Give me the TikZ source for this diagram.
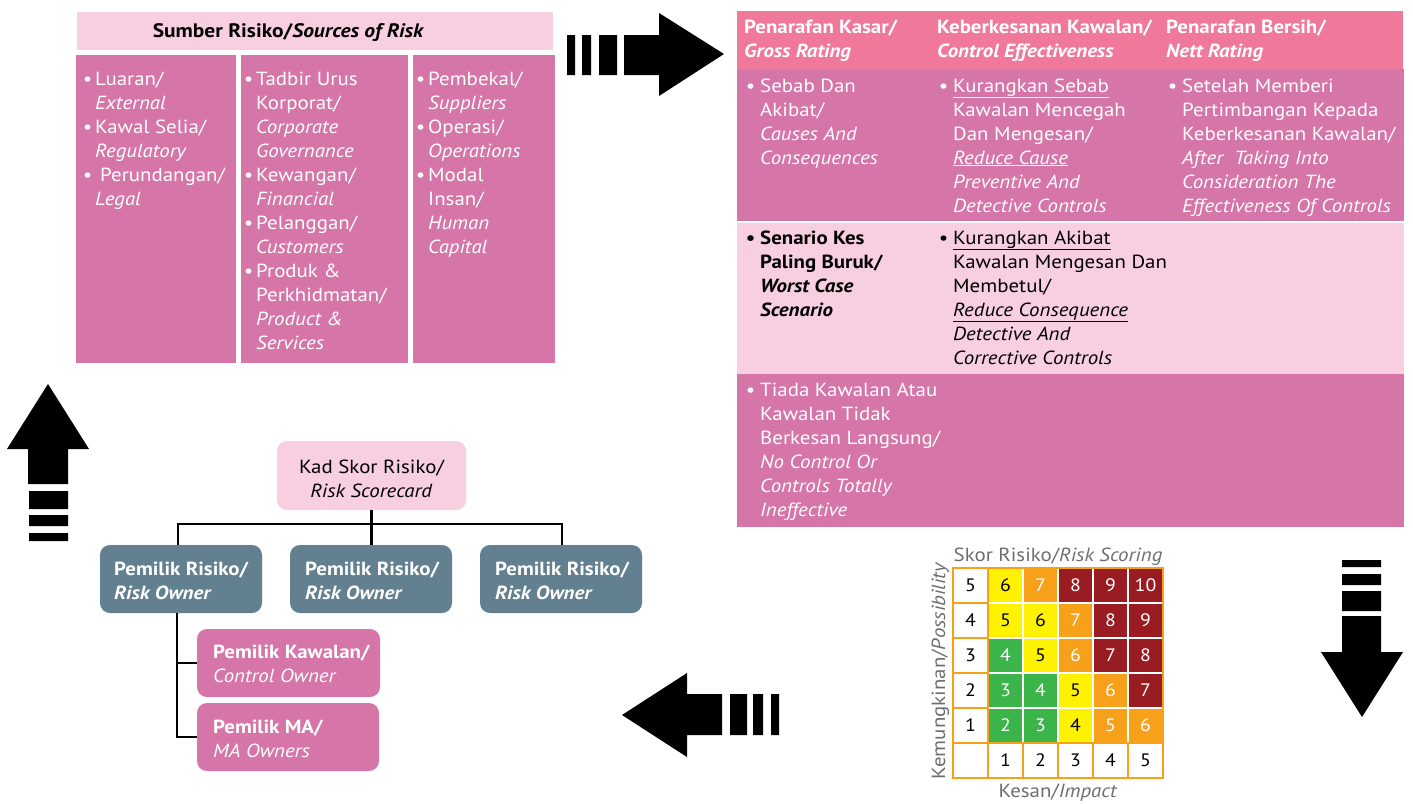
\documentclass[tikz,border=0pt]{standalone}
\usepackage{fontspec}
\setmainfont{PT Sans}[FakeStretch=1.1]
\definecolor{mauve}{HTML}{D675A8}
\definecolor{hdrpink}{HTML}{EF789B}
\definecolor{lightpink}{HTML}{F8CFE1}
\definecolor{slate}{HTML}{62808F}
\definecolor{gyellow}{HTML}{FFF200}
\definecolor{gorange}{HTML}{F7A11A}
\definecolor{gred}{HTML}{9A1C23}
\definecolor{ggreen}{HTML}{3BB44A}
\definecolor{ggray}{HTML}{6D6E71}
\newcommand\bodyfont{\fontsize{19}{24}\selectfont}
\newcommand\hdfont{\bfseries\fontsize{19}{24}\selectfont}
\newcommand\gridfont{\fontsize{18}{22}\selectfont}
\newcommand\glabfont{\fontsize{19}{22}\selectfont}
\newcommand\bul{\llap{\textbullet\hspace{3pt}}}
\newcommand\bulw{\llap{\textbullet\hspace{5pt}}}
\tikzset{
  body/.style={anchor=base west, inner sep=0pt, align=left, font=\bodyfont},
  hd/.style={anchor=base west, inner sep=0pt, align=left, font=\hdfont},
  rbox/.style={rounded corners=10pt, inner sep=0pt},
  conn/.style={draw=black, line width=2.5pt},
  lcell/.style={draw=gorange, line width=2pt, fill=white},
  gnum/.style={inner sep=0pt, font=\gridfont},
  glab/.style={inner sep=0pt, font=\glabfont, text=ggray, anchor=base},
}
\newcommand\gcell[5]{%
  \fill[#3] ({953+35*#1+1.2},{568+35*#2+1.2}) rectangle ({953+35*#1+35-1.2},{568+35*#2+35-1.2});
  \node[gnum, text=#4] (g#1#2) at ({953+35*#1+17.5},{568+35*#2+17.5}) {#5};}
\newcommand\lcellm[3]{%
  \draw[lcell] ({953+35*#1},{568+35*#2}) rectangle ({953+35*#1+35},{568+35*#2+35});
  \node[gnum, text=black] (l#1#2) at ({953+35*#1+17.5},{568+35*#2+17.5}) {#3};}
\begin{document}
\begin{tikzpicture}[x=1pt,y=-1pt]
\useasboundingbox (0,0) rectangle (1413,803);
\fill[white] (0,0) rectangle (1413,803);

% ---------- Sources of risk ----------
\fill[lightpink] (77,12) rectangle (553,50);
\node[hd, font=\bfseries\fontsize{19.5}{24}\selectfont, anchor=base, text=black] (srchd) at (288.5,37) {Sumber Risiko/\textit{Sources of Risk}};
\fill[mauve] (76,55) rectangle (236,363);
\fill[mauve] (241,55) rectangle (408,363);
\fill[mauve] (413,55) rectangle (555,363);
\node[body, text=white] (src1) at (95,205) {\bul Luaran/\\\textit{External}\\\bul Kawal Selia/\\\textit{Regulatory}\\\bul\hspace{5pt}Perundangan/\\\textit{Legal}};
\node[body, text=white] (src2) at (256,349) {\bul Tadbir Urus\\Korporat/\\\textit{Corporate}\\\textit{Governance}\\\bul Kewangan/\\\textit{Financial}\\\bul Pelanggan/\\\textit{Customers}\\\bul Produk \&\\Perkhidmatan/\\\textit{Product \&}\\\textit{Services}};
\node[body, text=white] (src3) at (428,253) {\bul Pembekal/\\\textit{Suppliers}\\\bul Operasi/\\\textit{Operations}\\\bul Modal\\Insan/\\\textit{Human}\\\textit{Capital}};

% ---------- Rating table ----------
\fill[hdrpink] (737,11) rectangle (1403,69);
\fill[mauve] (737,69) rectangle (1404,221);
\fill[lightpink] (737,223) rectangle (1404,374);
\fill[mauve] (737,374) rectangle (1404,527);
\node[hd, text=white] (h1) at (744,57) {Penarafan Kasar/\\\textit{Gross Rating}};
\node[hd, text=white] (h2) at (937,57) {Keberkesanan Kawalan/\\\textit{Control Effectiveness}};
\node[hd, text=white] (h3) at (1166,57) {Penarafan Bersih/\\\textit{Nett Rating}};
\node[body, text=white] (r21) at (760,164) {\bulw Sebab Dan\\Akibat/\\\textit{Causes And}\\\textit{Consequences}};
\node[body, text=white] (r22) at (953,212) {\bulw\underline{Kurangkan Sebab}\\Kawalan Mencegah\\Dan Mengesan/\\\textit{\underline{Reduce Cause}}\\\textit{Preventive And}\\\textit{Detective Controls}};
\node[body, text=white] (r23) at (1182,212) {\bulw Setelah Memberi\\Pertimbangan Kepada\\Keberkesanan Kawalan/\\\textit{After\ \ Taking Into}\\\textit{Consideration The}\\\textit{Effectiveness Of Controls}};
\node[hd, text=black] (r31) at (760,316) {\bulw Senario Kes\\Paling Buruk/\\\textit{Worst Case}\\\textit{Scenario}};
\node[body, text=black] (r32) at (953,364) {\bulw\underline{Kurangkan Akibat}\\Kawalan Mengesan Dan\\Membetul/\\\textit{\underline{Reduce Consequence}}\\\textit{Detective And}\\\textit{Corrective Controls}};
\node[body, text=white] (r41) at (760,516) {\bulw Tiada Kawalan Atau\\Kawalan Tidak\\Berkesan Langsung/\\\textit{No Control Or}\\\textit{Controls Totally}\\\textit{Ineffective}};

% ---------- Risk scoring grid ----------
\node[glab] (gtitle) at (1058,561) {Skor Risiko/\textit{Risk Scoring}};
\node[glab, rotate=90] (gylab) at (945,671) {Kemungkinan/\textit{Possibility}};
\node[glab] (gxlab) at (1058,797) {Kesan/\textit{Impact}};
\lcellm{0}{0}{5}\lcellm{0}{1}{4}\lcellm{0}{2}{3}\lcellm{0}{3}{2}\lcellm{0}{4}{1}
\lcellm{0}{5}{}\lcellm{1}{5}{1}\lcellm{2}{5}{2}\lcellm{3}{5}{3}\lcellm{4}{5}{4}\lcellm{5}{5}{5}
\gcell{1}{0}{gyellow}{black}{6}\gcell{2}{0}{gorange}{white}{7}\gcell{3}{0}{gred}{white}{8}\gcell{4}{0}{gred}{white}{9}\gcell{5}{0}{gred}{white}{10}
\gcell{1}{1}{gyellow}{black}{5}\gcell{2}{1}{gyellow}{black}{6}\gcell{3}{1}{gorange}{white}{7}\gcell{4}{1}{gred}{white}{8}\gcell{5}{1}{gred}{white}{9}
\gcell{1}{2}{ggreen}{white}{4}\gcell{2}{2}{gyellow}{black}{5}\gcell{3}{2}{gorange}{white}{6}\gcell{4}{2}{gred}{white}{7}\gcell{5}{2}{gred}{white}{8}
\gcell{1}{3}{ggreen}{white}{3}\gcell{2}{3}{ggreen}{white}{4}\gcell{3}{3}{gyellow}{black}{5}\gcell{4}{3}{gorange}{white}{6}\gcell{5}{3}{gred}{white}{7}
\gcell{1}{4}{ggreen}{white}{2}\gcell{2}{4}{ggreen}{white}{3}\gcell{3}{4}{gyellow}{black}{4}\gcell{4}{4}{gorange}{white}{5}\gcell{5}{4}{gorange}{white}{6}
\draw[gorange, line width=2.5pt] (953,568) rectangle (1163,778);

% ---------- Scorecard tree ----------
\node[rbox, fill=lightpink, minimum width=189pt, minimum height=69pt] (kad) at (371.5,475.5) {};
\node[rbox, fill=slate, minimum width=162pt, minimum height=68pt] (ro1) at (181,579) {};
\node[rbox, fill=slate, minimum width=162pt, minimum height=68pt] (ro2) at (371,579) {};
\node[rbox, fill=slate, minimum width=162pt, minimum height=68pt] (ro3) at (561,579) {};
\node[rbox, fill=mauve, minimum width=183pt, minimum height=68pt] (co) at (288.5,663) {};
\node[rbox, fill=mauve, minimum width=182pt, minimum height=68pt] (ma) at (288,737) {};
\coordinate (hb) at (0,524);
\draw[conn] (kad.south) -- (kad.south |- ro2.north);
\draw[conn] ([xshift=-3pt]ro1.north) -- ([xshift=-3pt]ro1.north |- hb) -- ([xshift=1pt]ro3.north |- hb) -- ([xshift=1pt]ro3.north);
\draw[conn] ([xshift=-4pt]ro1.south) -- ([xshift=-4pt]ro1.south |- ma.west) -- (ma.west);
\draw[conn] ([xshift=-4pt]ro1.south |- co.west) -- (co.west);
\node[body, anchor=base, align=center, text=black] (kadt) at (371.5,497) {Kad Skor Risiko/\\\textit{Risk Scorecard}};
\node[hd, text=white] (ro1t) at (114,599) {Pemilik Risiko/\\\textit{Risk Owner}};
\node[hd, text=white] (ro2t) at (305,599) {Pemilik Risiko/\\\textit{Risk Owner}};
\node[hd, text=white] (ro3t) at (495,599) {Pemilik Risiko/\\\textit{Risk Owner}};
\node[body, text=white] (cot) at (213,682) {\textbf{Pemilik Kawalan/}\\\textit{Control Owner}};
\node[body, text=white] (mat) at (213,757) {\textbf{Pemilik MA/}\\\textit{MA Owners}};

% ---------- Block arrows ----------
\fill[black] (624,35) -- (659,35) -- (659,13) -- (724,54) -- (659,96) -- (659,75) -- (624,75) -- cycle;
\fill[black] (567,35) rectangle (575,75) (582,35) rectangle (591,75) (599,35) rectangle (617,75);
\fill[black] (1342,616) -- (1381,616) -- (1381,652) -- (1403,652) -- (1362,717) -- (1321,652) -- (1342,652) -- cycle;
\fill[black] (1342,560) rectangle (1381,567) (1342,574) rectangle (1381,585) (1342,591) rectangle (1381,611);
\fill[black] (722,694) -- (687,694) -- (687,673) -- (622,715) -- (687,757) -- (687,735) -- (722,735) -- cycle;
\fill[black] (730,694) rectangle (747,735) (753,694) rectangle (763,735) (771,694) rectangle (779,735);
\fill[black] (28,484) -- (28,449) -- (7,449) -- (48,384) -- (89,449) -- (68,449) -- (68,484) -- cycle;
\fill[black] (29,491) rectangle (68,509) (29,515) rectangle (68,526) (29,533) rectangle (68,541);
\end{tikzpicture}
\end{document}
